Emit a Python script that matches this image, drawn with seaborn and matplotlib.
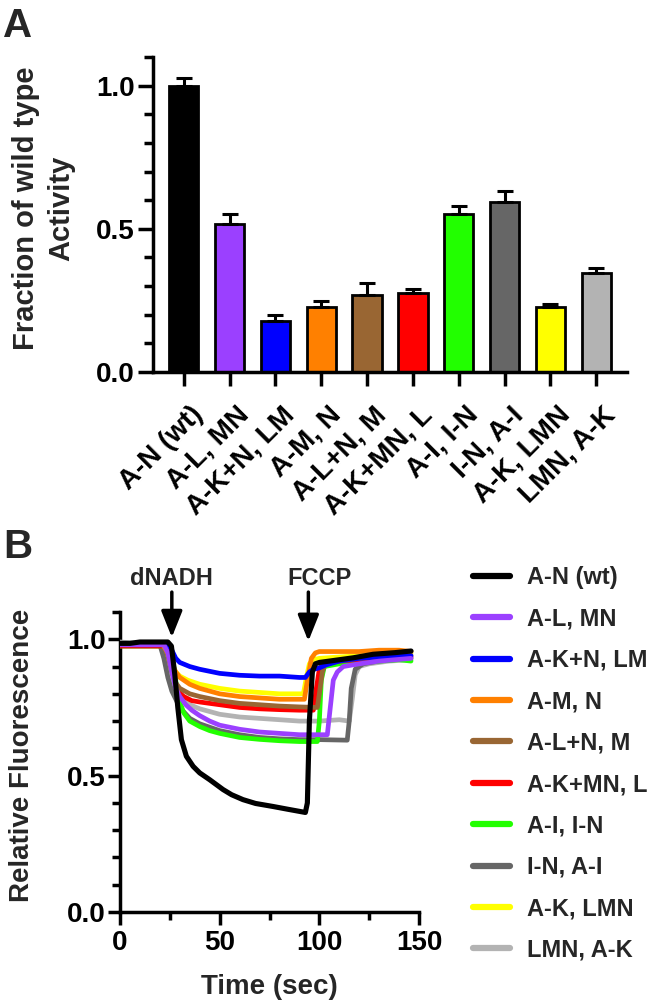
import numpy as np
import pandas as pd
import matplotlib
matplotlib.use("Agg")
import matplotlib.pyplot as plt
import matplotlib.transforms as mtransforms
from matplotlib.lines import Line2D
from matplotlib.ticker import MultipleLocator, FixedLocator
import seaborn as sns

# ---------------- Panel A data ----------------
categories = ['A-N (wt)', 'A-L, MN', 'A-K+N, LM', 'A-M, N', 'A-L+N, M',
              'A-K+MN, L', 'A-I, I-N', 'I-N, A-I', 'A-K, LMN', 'LMN, A-K']
activity = [1.0, 0.516, 0.179, 0.228, 0.270, 0.275, 0.553, 0.593, 0.226, 0.345]
activity_err = [0.028, 0.034, 0.020, 0.020, 0.040, 0.015, 0.026, 0.040, 0.011, 0.019]
colors = ['#000000', '#9B40FF', '#0000FF', '#FF8000', '#996633',
          '#FF0000', '#22FF00', '#666666', '#FFFF00', '#B3B3B3']

# ---------------- Panel B data (time in sec, relative fluorescence) ----------------
t_wt = [0, 5, 10, 15, 20, 24, 25.8, 27.5, 29, 30.8, 33.3, 36.7, 40, 45, 51.7, 56, 61.7,
        68, 76.7, 84, 90, 93, 94, 95, 96.5, 98, 100, 105, 110, 117, 127, 138, 146]
f_wt = [0.985, 0.985, 0.99, 0.99, 0.99, 0.99, 0.975, 0.87, 0.75, 0.632, 0.571, 0.534, 0.51,
        0.485, 0.449, 0.43, 0.412, 0.398, 0.387, 0.377, 0.369, 0.365, 0.40, 0.70, 0.88,
        0.91, 0.915, 0.92, 0.925, 0.932, 0.945, 0.951, 0.957]

t_al_mn = [0, 10, 22, 24, 26, 28, 30, 33, 36, 40, 45, 50, 60, 70, 80, 90, 100, 104,
           105.5, 107, 109, 112, 120, 130, 146]
f_al_mn = [0.98, 0.98, 0.98, 0.95, 0.88, 0.82, 0.79, 0.76, 0.74, 0.72, 0.70, 0.685, 0.67,
           0.66, 0.655, 0.65, 0.65, 0.65, 0.75, 0.85, 0.88, 0.90, 0.91, 0.92, 0.93]

t_akn_lm = [0, 10, 24, 26, 28, 30, 35, 40, 50, 60, 70, 80, 90, 93, 95, 97, 100, 103,
            110, 120, 130, 146]
f_akn_lm = [0.98, 0.98, 0.98, 0.96, 0.93, 0.915, 0.90, 0.89, 0.875, 0.868, 0.865, 0.865,
            0.86, 0.86, 0.88, 0.89, 0.895, 0.905, 0.92, 0.93, 0.935, 0.94]

t_am_n = [0, 10, 21, 24, 26, 28, 30, 35, 40, 50, 60, 70, 80, 90, 92.5, 94, 96, 98,
          100, 110, 120, 130, 140, 146]
f_am_n = [0.98, 0.985, 0.985, 0.95, 0.91, 0.88, 0.86, 0.835, 0.82, 0.80, 0.79, 0.785,
          0.78, 0.78, 0.78, 0.85, 0.93, 0.95, 0.955, 0.955, 0.955, 0.96, 0.96, 0.955]

t_aln_m = [0, 10, 22, 24, 26, 28, 30, 35, 40, 50, 60, 70, 80, 90, 99, 100, 101.5, 103,
           110, 120, 140, 146]
f_aln_m = [0.98, 0.98, 0.98, 0.94, 0.88, 0.84, 0.82, 0.80, 0.79, 0.775, 0.765, 0.76,
           0.755, 0.752, 0.75, 0.80, 0.88, 0.91, 0.92, 0.93, 0.935, 0.94]

t_akmn_l = [0, 10, 23, 25, 27, 29, 32, 36, 40, 50, 60, 70, 80, 90, 97, 98.5, 100, 102,
            110, 130, 146]
f_akmn_l = [0.975, 0.975, 0.975, 0.94, 0.86, 0.81, 0.79, 0.775, 0.77, 0.76, 0.75, 0.745,
            0.742, 0.74, 0.74, 0.82, 0.89, 0.91, 0.92, 0.93, 0.935]

t_ai_in = [0, 10, 23, 25, 27, 28.5, 30, 32, 35, 40, 45, 50, 60, 70, 80, 90, 99, 100,
           101, 102.5, 110, 120, 130, 140, 146]
f_ai_in = [0.975, 0.975, 0.975, 0.96, 0.90, 0.82, 0.77, 0.73, 0.70, 0.68, 0.665, 0.655,
           0.64, 0.633, 0.628, 0.625, 0.625, 0.70, 0.85, 0.90, 0.91, 0.915, 0.92, 0.925, 0.92]

t_in_ai = [0, 10, 20, 22, 24, 26, 28, 30, 35, 40, 50, 60, 70, 80, 90, 100, 114, 115,
           116, 118, 122, 130, 146]
f_in_ai = [0.98, 0.98, 0.98, 0.93, 0.86, 0.81, 0.78, 0.75, 0.71, 0.69, 0.665, 0.65, 0.64,
           0.635, 0.632, 0.632, 0.63, 0.70, 0.82, 0.89, 0.91, 0.92, 0.93]

t_ak_lmn = [0, 10, 20, 22, 24, 26, 28, 30, 34, 40, 50, 60, 70, 80, 90, 92, 93.5, 95, 97,
            100, 110, 120, 130, 140, 146]
f_ak_lmn = [0.98, 0.98, 0.98, 0.96, 0.93, 0.90, 0.88, 0.865, 0.85, 0.835, 0.82, 0.81,
            0.805, 0.80, 0.80, 0.80, 0.86, 0.91, 0.925, 0.93, 0.935, 0.94, 0.94, 0.945, 0.95]

t_lmn_ak = [0, 10, 21, 23, 25, 27, 30, 35, 40, 50, 60, 70, 80, 90, 100, 110, 115,
            116.5, 118, 120, 125, 135, 146]
f_lmn_ak = [0.99, 0.985, 0.985, 0.93, 0.87, 0.82, 0.79, 0.76, 0.745, 0.725, 0.715, 0.71,
            0.705, 0.70, 0.70, 0.705, 0.70, 0.78, 0.87, 0.90, 0.91, 0.92, 0.925]

traces_t = [t_wt, t_al_mn, t_akn_lm, t_am_n, t_aln_m, t_akmn_l, t_ai_in, t_in_ai, t_ak_lmn, t_lmn_ak]
traces_f = [f_wt, f_al_mn, f_akn_lm, f_am_n, f_aln_m, f_akmn_l, f_ai_in, f_in_ai, f_ak_lmn, f_lmn_ak]

# ---------------- style ----------------
sns.set_theme(style="ticks")
plt.rcParams['font.family'] = ['Liberation Sans', 'DejaVu Sans']
plt.rcParams['font.weight'] = 'bold'
plt.rcParams['axes.labelweight'] = 'bold'
plt.rcParams['axes.linewidth'] = 2.5
plt.rcParams['axes.edgecolor'] = 'black'
plt.rcParams['xtick.color'] = 'black'
plt.rcParams['ytick.color'] = 'black'

W, H = 650, 1007
fig = plt.figure(figsize=(W / 100, H / 100), dpi=100)

def px_axes(left, top, right, bottom):
    return [left / W, 1 - bottom / H, (right - left) / W, (bottom - top) / H]

axA = fig.add_axes(px_axes(153, 57, 627, 372))
axB = fig.add_axes(px_axes(120, 612, 419, 912))

# ---------------- Panel A ----------------
dfA = pd.DataFrame({'construct': categories, 'activity': activity})
sns.barplot(data=dfA, x='construct', y='activity', hue='construct', order=categories,
            hue_order=categories, palette=colors, saturation=1, width=0.64,
            edgecolor='black', linewidth=2, legend=False, errorbar=None, ax=axA)
axA.errorbar(x=np.arange(len(categories)), y=activity,
             yerr=[np.zeros(len(categories)), activity_err], fmt='none',
             ecolor='black', elinewidth=2.2, capsize=6, capthick=2.2, zorder=3)
axA.set_xlim(-0.67, 9.67)
axA.set_ylim(0, 1.1)
axA.yaxis.set_major_locator(FixedLocator([0, 0.5, 1.0]))
axA.yaxis.set_minor_locator(MultipleLocator(0.1))
axA.set_yticklabels(['0.0', '0.5', '1.0'])
sns.despine(ax=axA)
axA.tick_params(axis='y', which='major', length=11, width=2.5, pad=2, labelsize=20)
axA.tick_params(axis='y', which='minor', length=6.5, width=2.5)
axA.tick_params(axis='x', which='major', length=10, width=2.5, pad=18, labelsize=20)
axA.set_xlabel('')
axA.set_ylabel('Fraction of wild type\nActivity', fontsize=21, linespacing=1.3)
axA.yaxis.set_label_coords((75 - 153) / 474, 0.52)
offset = mtransforms.ScaledTranslation(11 / 72, 0, fig.dpi_scale_trans)
for lab in axA.get_xticklabels():
    lab.set_rotation(45)
    lab.set_ha('right')
    lab.set_va('center')
    lab.set_rotation_mode('anchor')
    lab.set_transform(lab.get_transform() + offset)

# ---------------- Panel B ----------------
draw_order = list(range(len(categories)))[::-1]
for i in draw_order:
    dfi = pd.DataFrame({'time': traces_t[i], 'fluor': traces_f[i]})
    sns.lineplot(data=dfi, x='time', y='fluor', color=colors[i],
                 linewidth=3.7 if i == 0 else 3.4, estimator=None, sort=False,
                 ax=axB, legend=False, zorder=3 + (10 - i) * 0.01)
axB.set_xlim(0, 150)
axB.set_ylim(0, 1.1)
axB.xaxis.set_major_locator(FixedLocator([0, 50, 100, 150]))
axB.xaxis.set_minor_locator(MultipleLocator(25))
axB.yaxis.set_major_locator(FixedLocator([0, 0.5, 1.0]))
axB.yaxis.set_minor_locator(MultipleLocator(0.1))
axB.set_yticklabels(['0.0', '0.5', '1.0'])
sns.despine(ax=axB)
axB.tick_params(axis='both', which='major', length=9, width=2.5, labelsize=20)
axB.tick_params(axis='y', which='major', pad=1.5)
axB.tick_params(axis='x', which='major', pad=4)
axB.tick_params(axis='both', which='minor', length=5.5, width=2.5)
axB.set_xlabel('Time (sec)', fontsize=20)
axB.set_ylabel('Relative Fluorescence', fontsize=20)
axB.xaxis.set_label_coords(0.5, (912 - 974) / 300)
axB.yaxis.set_label_coords((35 - 120) / 299, 0.523)

arrow_kw = dict(arrowstyle='-|>,head_length=0.8,head_width=0.32', lw=2.5,
                color='black', mutation_scale=20, shrinkA=0, shrinkB=0)
axB.annotate('', xy=(26, 1.007), xytext=(26, 1.173), arrowprops=arrow_kw,
             annotation_clip=False)
axB.annotate('', xy=(94.5, 0.993), xytext=(94.5, 1.173), arrowprops=arrow_kw,
             annotation_clip=False)
axB.text(25.75, 1.224, 'dNADH', ha='center', va='center', fontsize=17, clip_on=False)
axB.text(100, 1.224, 'FCCP', ha='center', va='center', fontsize=17, clip_on=False)

handles = [Line2D([0], [0], color=c, lw=4.5, solid_capstyle='round') for c in colors]
fig.legend(handles, categories, loc='upper left',
           bbox_to_anchor=(473 / W, 1 - 566 / H), frameon=False,
           prop={'size': 17, 'weight': 'bold'}, handlelength=1.55,
           handletextpad=0.72, labelspacing=0.78, borderpad=0, borderaxespad=0)

# panel letters
fig.text(3 / W, 1 - 37 / H, 'A', fontsize=29, fontweight='bold', va='baseline')
fig.text(3 / W, 1 - 558 / H, 'B', fontsize=29, fontweight='bold', va='baseline')

fig.savefig('out.png', dpi=100)
